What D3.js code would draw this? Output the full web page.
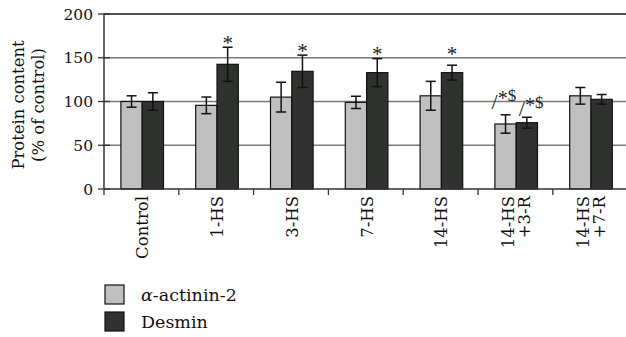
<!DOCTYPE html>
<html><head><meta charset="utf-8">
<script src="https://cdn.jsdelivr.net/npm/d3@7"></script>
<style>body{margin:0;background:#fff;} svg{display:block;} text{font-family:"DejaVu Serif","Liberation Serif",serif;fill:#111;}</style>
</head><body>
<svg id="c" width="626" height="337"></svg>
<script>
const categories = [["Control"],["1-HS"],["3-HS"],["7-HS"],["14-HS"],["14-HS","+3-R"],["14-HS","+7-R"]];
const seriesNames = ["α-actinin-2","Desmin"];
const actininValues = [100, 95.6, 105, 99, 106.5, 74.3, 106.5];
const actininErr    = [6.5, 9.5, 17, 7, 16.5, 10.5, 9.5];
const desminValues  = [100, 142.5, 134.5, 133, 133, 75.8, 102.5];
const desminErr     = [10, 19.5, 18.5, 16, 8.5, 6.2, 5.5];
const actininNotes  = ["", "", "", "", "", "/*$", ""];
const desminNotes   = ["", "*", "*", "*", "*", "/*$", ""];
const yTicks = [0, 50, 100, 150, 200];

const svg = d3.select("#c");
const left = 104, groupW = 74.8, barW = 21.3;
const x0 = d3.scaleBand().domain(d3.range(categories.length)).range([left, left + groupW*categories.length]).padding(0);
const x1 = d3.scaleBand().domain([0,1]).range([(groupW-2*barW)/2 + 0.8, (groupW+2*barW)/2 + 0.8]).padding(0);
const y = d3.scaleLinear().domain([0,200]).range([189,14]);
const colors = ["#c0c0c0","#303230"];

// gridlines
svg.append("g").selectAll("line").data(yTicks.filter(d=>d>0)).join("line")
  .attr("x1", left).attr("x2", 626).attr("y1", d=>y(d)).attr("y2", d=>y(d))
  .attr("stroke", d=> d===200 ? "#1a1a1a" : "#7a7a7a").attr("stroke-width", d=> d===200?1.5:1.3);

// bars
const series = [
  {vals: actininValues, err: actininErr, notes: actininNotes, noteDx: -14, noteDy: -14},
  {vals: desminValues, err: desminErr, notes: desminNotes, noteDx: -8, noteDy: -9}
];
series.forEach((s, si) => {
  const g = svg.append("g");
  s.vals.forEach((v, i) => {
    const bx = x0(i) + x1(si);
    g.append("rect").attr("x", bx).attr("y", y(v)).attr("width", barW).attr("height", y(0)-y(v))
      .attr("fill", colors[si]).attr("stroke", "#111").attr("stroke-width", 1.2);
    const cx = bx + barW/2;
    const top = y(v + s.err[i]), bot = y(v - s.err[i]);
    g.append("line").attr("x1",cx).attr("x2",cx).attr("y1",top).attr("y2",bot).attr("stroke","#111").attr("stroke-width",1.5);
    [top,bot].forEach(yy => g.append("line").attr("x1",cx-5).attr("x2",cx+5).attr("y1",yy).attr("y2",yy).attr("stroke","#111").attr("stroke-width",1.5));
    const n = s.notes[i];
    if (n === "*") {
      const anchor = Math.min(top, y(149));
      g.append("text").attr("x", cx).attr("y", anchor + 2.5).attr("text-anchor","middle")
        .style("font-size","21px").style("font-family","Liberation Serif").style("fill","#222").text(n);
    } else if (n) {
      const t = g.append("text").attr("x", cx + s.noteDx).attr("y", top + s.noteDy).style("fill","#222").style("font-family","Liberation Serif");
      t.append("tspan").attr("dy", 8).style("font-size","22px").text(n[0]);
      t.append("tspan").attr("dy", -4).attr("dx", 0).style("font-size","20px").text(n[1]);
      t.append("tspan").attr("dy", -4).attr("dx", 0).style("font-size","17px").text(n.slice(2));
    }
  });
});

// y axis
svg.append("line").attr("x1",left).attr("x2",left).attr("y1",y(200)).attr("y2",y(0)).attr("stroke","#333").attr("stroke-width",1.5);
const ya = svg.append("g");
yTicks.forEach(t => {
  ya.append("line").attr("x1",left-6).attr("x2",left+6).attr("y1",y(t)).attr("y2",y(t)).attr("stroke","#333").attr("stroke-width",1.3);
  ya.append("text").attr("x",93).attr("y",y(t)).attr("dy","0.36em").attr("text-anchor","end").style("font-size","15.5px").text(t);
});
// x axis
svg.append("line").attr("x1",left).attr("x2",626).attr("y1",y(0)).attr("y2",y(0)).attr("stroke","#333").attr("stroke-width",1.5);
const xa = svg.append("g");
d3.range(categories.length+1).forEach(i => {
  const xx = left + i*groupW;
  xa.append("line").attr("x1",xx).attr("x2",xx).attr("y1",y(0)).attr("y2",y(0)+6).attr("stroke","#333").attr("stroke-width",1.3);
});
categories.forEach((lines, i) => {
  const cx = x0(i) + groupW/2 + 0.8;
  lines.forEach((ln, li) => {
    const off = (li - (lines.length-1)/2) * 16;
    xa.append("text").attr("transform", `translate(${cx+off},196) rotate(-90)`)
      .attr("text-anchor","end").attr("dy","0.36em").style("font-size","16.5px").text(ln);
  });
});
// y label
const yl = svg.append("g").attr("transform", `translate(0,${y(96)})`);
yl.append("text").attr("transform","translate(24,0) rotate(-90)").attr("text-anchor","middle").style("font-size","16.4px").text("Protein content");
yl.append("text").attr("transform","translate(44,0) rotate(-90)").attr("text-anchor","middle").style("font-size","16.4px").text("(% of control)");

// legend
const lg = svg.append("g");
seriesNames.forEach((name, i) => {
  const yy = 285 + i*27;
  lg.append("rect").attr("x",105).attr("y",yy).attr("width",19).attr("height",19).attr("fill",colors[i]).attr("stroke","#111").attr("stroke-width",1.2);
  const t = lg.append("text").attr("x",141).attr("y",yy+15.5).style("font-size","17.5px");
  if (i===0) { t.append("tspan").style("font-style","italic").text("α"); t.append("tspan").text("-actinin-2"); }
  else t.text(name);
});
</script>
</body></html>
